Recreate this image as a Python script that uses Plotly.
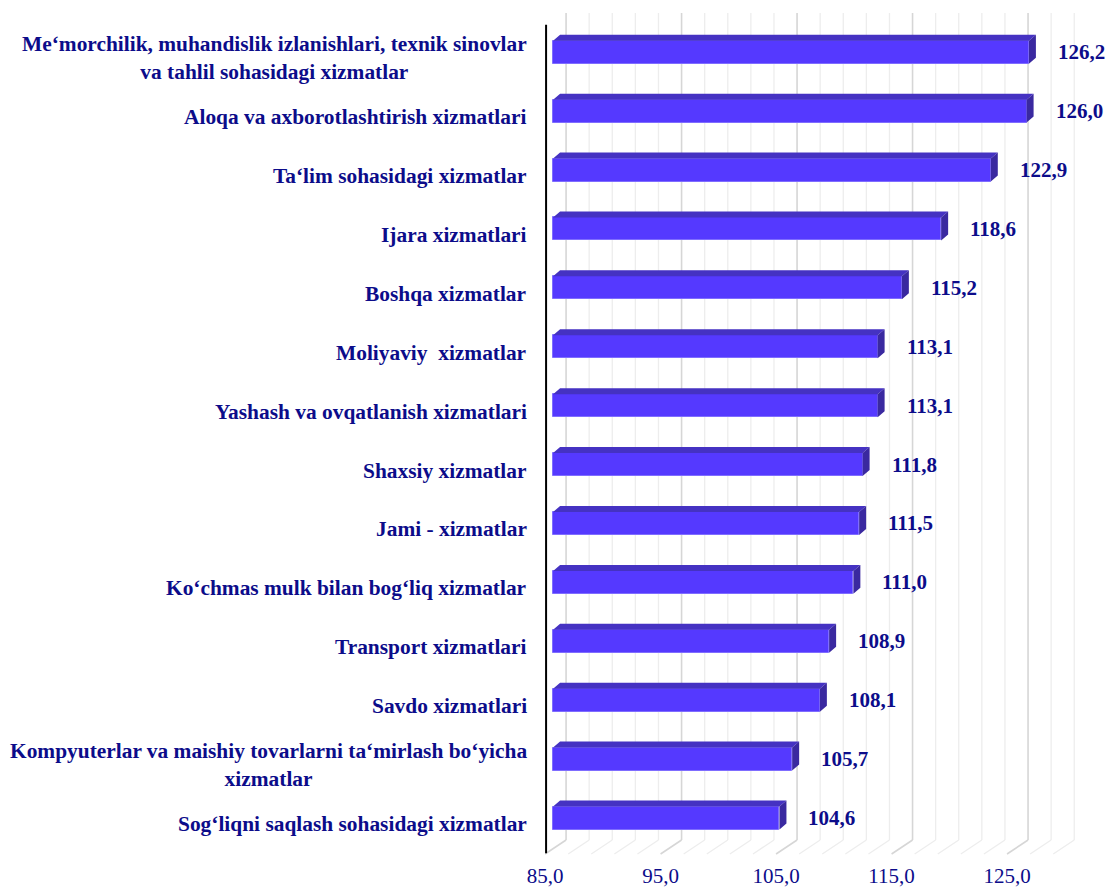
import plotly.graph_objects as go

# ---------------- data ----------------
categories = [
    "Me‘morchilik, muhandislik izlanishlari, texnik sinovlar<br>va tahlil sohasidagi xizmatlar",
    "Aloqa va axborotlashtirish xizmatlari",
    "Ta‘lim sohasidagi xizmatlar",
    "Ijara xizmatlari",
    "Boshqa xizmatlar",
    "Moliyaviy  xizmatlar",
    "Yashash va ovqatlanish xizmatlari",
    "Shaxsiy xizmatlar",
    "Jami - xizmatlar",
    "Ko‘chmas mulk bilan bog‘liq xizmatlar",
    "Transport xizmatlari",
    "Savdo xizmatlari",
    "Kompyuterlar va maishiy tovarlarni ta‘mirlash bo‘yicha<br>xizmatlar",
    "Sog‘liqni saqlash sohasidagi xizmatlar",
]
values = [126.2, 126.0, 122.9, 118.6, 115.2, 113.1, 113.1, 111.8, 111.5, 111.0, 108.9, 108.1, 105.7, 104.6]
axis_min = 85.0
major_ticks = [85, 95, 105, 115, 125]
minor_ticks = [85, 87, 89, 91, 93, 95, 97, 99, 101, 103, 105, 107, 109, 111, 113, 115,
               117, 119, 121, 123, 125, 127, 129]


def fmt(v):
    return f"{v:.1f}".replace(".", ",")


# ---------------- styling / layout constants ----------------
W, H = 1110, 889
M_L, M_R, M_T, M_B = 545, 32, 13, 35
PLOT_W = W - M_L - M_R
PLOT_H = H - M_T - M_B
PX_PER_UNIT = 11.549
X_LO = 84.3
X_HI = X_LO + PLOT_W / PX_PER_UNIT
Y_RANGE = [13.611, -0.666]
PX_PER_CAT = PLOT_H / (Y_RANGE[0] - Y_RANGE[1])

BAR_W = 0.39
DEPTH_X = 7 / PX_PER_UNIT        # 3-D depth in data units
DEPTH_Y = 6 / PX_PER_CAT

NAVY = "#0c0c8a"
FONT = "Liberation Serif, Times New Roman, serif"
FRONT = "#5539ff"
TOP = "#4532c2"
SIDE = "#3a29a0"

ypos = list(range(len(categories)))

fig = go.Figure()

# front faces
fig.add_trace(go.Bar(
    y=ypos, x=[v - axis_min for v in values], base=axis_min, orientation="h",
    width=BAR_W, marker=dict(color=FRONT, line=dict(color="#7f6dff", width=1)),
    hoverinfo="skip", showlegend=False,
))

# top & side faces (3-D look)
top_x, top_y, side_x, side_y = [], [], [], []
for i, v in zip(ypos, values):
    yt = i - BAR_W / 2
    yb = i + BAR_W / 2
    top_x += [axis_min, v, v + DEPTH_X, axis_min + DEPTH_X, axis_min, None]
    top_y += [yt, yt, yt - DEPTH_Y, yt - DEPTH_Y, yt, None]
    side_x += [v, v + DEPTH_X, v + DEPTH_X, v, v, None]
    side_y += [yt, yt - DEPTH_Y, yb - DEPTH_Y, yb, yt, None]

fig.add_trace(go.Scatter(x=top_x, y=top_y, mode="lines", fill="toself", fillcolor=TOP,
                         line=dict(width=0, color=TOP), hoverinfo="skip", showlegend=False))
fig.add_trace(go.Scatter(x=side_x, y=side_y, mode="lines", fill="toself", fillcolor=SIDE,
                         line=dict(width=0, color=SIDE), hoverinfo="skip", showlegend=False))

# gridlines on back wall and floor
floor_back = 14 / PLOT_H
shapes = []
for t in minor_ticks:
    is_major = t in major_ticks
    col = "#d6d6d6" if is_major else "#ededed"
    wdt = 1.6 if is_major else 1.3
    shapes.append(dict(type="line", xref="x", xsizemode="pixel", xanchor=t, x0=13, x1=13,
                       yref="paper", y0=floor_back, y1=1, line=dict(color=col, width=wdt),
                       layer="below"))
    shapes.append(dict(type="line", xref="x", xsizemode="pixel", xanchor=t, x0=13, x1=-8,
                       yref="paper", y0=floor_back, y1=0, line=dict(color=col, width=wdt),
                       layer="below"))
# vertical axis line
shapes.append(dict(type="line", xref="x", xsizemode="pixel", xanchor=axis_min, x0=-7, x1=-7,
                   yref="paper", y0=0.001, y1=0.986, line=dict(color="black", width=2),
                   layer="above"))

annotations = []
for i, (c, v) in enumerate(zip(categories, values)):
    annotations.append(dict(x=v, y=i, xref="x", yref="y", text=fmt(v), showarrow=False,
                            xanchor="left", yanchor="middle", xshift=27, yshift=0,
                            font=dict(family=FONT, size=21, color=NAVY, weight="bold")))
    annotations.append(dict(x=0, y=i, xref="paper", yref="y", text=f"<b>{c}</b>",
                            showarrow=False, xanchor="right", yanchor="middle", align="center",
                            xshift=-16, yshift=-6,
                            font=dict(family=FONT, size=21.4, color=NAVY)))

fig.update_layout(
    width=W, height=H,
    margin=dict(l=M_L, r=M_R, t=M_T, b=M_B, pad=0, autoexpand=False),
    paper_bgcolor="white", plot_bgcolor="white",
    shapes=shapes, annotations=annotations,
    bargap=0,
    xaxis=dict(range=[X_LO, X_HI], tickvals=major_ticks, ticktext=[fmt(t) for t in major_ticks],
               showgrid=False, zeroline=False, showline=False, ticks="", automargin=False,
               tickfont=dict(family=FONT, size=21, color=NAVY),
               ticklabelshift=-8, ticklabelstandoff=7),
    yaxis=dict(range=Y_RANGE, showgrid=False, zeroline=False, showline=False,
               showticklabels=False, ticks="", automargin=False),
)

fig.write_html("out.html", config={"displayModeBar": False},
               post_script="document.body.style.margin='0';document.body.style.overflow='hidden';")
